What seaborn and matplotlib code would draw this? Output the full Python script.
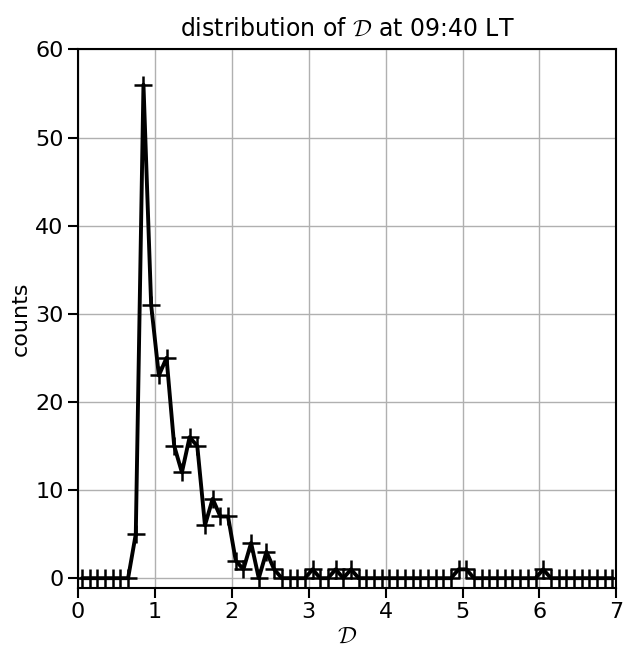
import numpy as np
import pandas as pd
import matplotlib
matplotlib.use('Agg')
import matplotlib.pyplot as plt
import seaborn as sns

# bin centres of D (bin width 0.1 from 0 to 7)
d_centres = [0.05, 0.15, 0.25, 0.35, 0.45, 0.55, 0.65, 0.75, 0.85, 0.95,
             1.05, 1.15, 1.25, 1.35, 1.45, 1.55, 1.65, 1.75, 1.85, 1.95,
             2.05, 2.15, 2.25, 2.35, 2.45, 2.55, 2.65, 2.75, 2.85, 2.95,
             3.05, 3.15, 3.25, 3.35, 3.45, 3.55, 3.65, 3.75, 3.85, 3.95,
             4.05, 4.15, 4.25, 4.35, 4.45, 4.55, 4.65, 4.75, 4.85, 4.95,
             5.05, 5.15, 5.25, 5.35, 5.45, 5.55, 5.65, 5.75, 5.85, 5.95,
             6.05, 6.15, 6.25, 6.35, 6.45, 6.55, 6.65, 6.75, 6.85, 6.95]

counts = [0, 0, 0, 0, 0, 0, 0, 5, 56, 31,
          23, 25, 15, 12, 16, 15, 6, 9, 7, 7,
          2, 1, 4, 0, 3, 1, 0, 0, 0, 0,
          1, 0, 0, 1, 0, 1, 0, 0, 0, 0,
          0, 0, 0, 0, 0, 0, 0, 0, 0, 1,
          1, 0, 0, 0, 0, 0, 0, 0, 0, 0,
          1, 0, 0, 0, 0, 0, 0, 0, 0, 0]

df = pd.DataFrame({'D': d_centres, 'counts': counts})

sns.set_style('ticks')
plt.rcParams['font.family'] = ['DejaVu Sans']
plt.rcParams['mathtext.fontset'] = 'cm'
plt.rcParams['text.color'] = 'black'
plt.rcParams['axes.labelcolor'] = 'black'

fig = plt.figure(figsize=(6.25, 6.5), dpi=100)
ax = fig.add_axes([0.125, 0.096, 0.861, 0.828])

sns.lineplot(x='D', y='counts', data=df, ax=ax, color='black',
             linewidth=2.8, marker='+', markersize=13, markeredgewidth=1.8,
             markeredgecolor='black', zorder=3)

ax.set_xlim(0, 7)
ax.set_ylim(-1.07, 60)
ax.set_xticks(range(0, 8))
ax.set_yticks(range(0, 70, 10))
ax.grid(True, color='#b0b0b0', linewidth=1.0)
ax.set_axisbelow(True)
for s in ax.spines.values():
    s.set_linewidth(1.5)
    s.set_color('black')
ax.tick_params(direction='out', length=7, width=1.5, labelsize=16, colors='black')

ax.set_title(r'distribution of $\mathcal{D}$ at 09:40 LT', fontsize=17, pad=10, color='black')
ax.set_xlabel(r'$\mathcal{D}$', fontsize=17, labelpad=1)
ax.set_ylabel('counts', fontsize=16, labelpad=3)

fig.savefig('out.png', dpi=100)
